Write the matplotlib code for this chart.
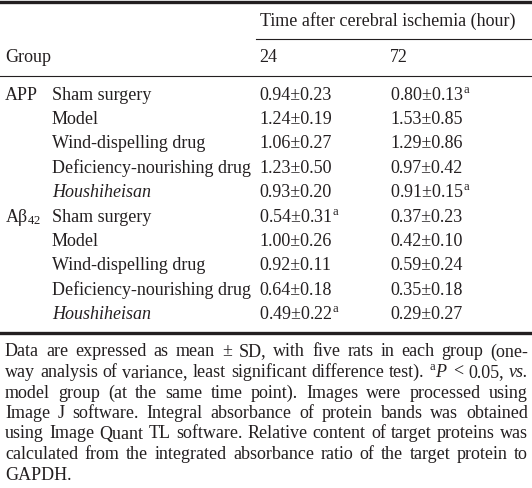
import matplotlib
matplotlib.use("Agg")
import matplotlib.pyplot as plt

plt.rcParams["font.family"] = ["Liberation Serif", "DejaVu Serif"]
plt.rcParams["mathtext.fontset"] = "custom"
plt.rcParams["mathtext.rm"] = "Liberation Serif"
plt.rcParams["mathtext.it"] = "Liberation Serif:italic"

INK = "#231f20"

# ---- table data ----
markers = ["APP", "A\u03b2$_\\mathregular{42}$"]
treatments = ["Sham surgery", "Model", "Wind-dispelling drug",
              "Deficiency-nourishing drug", "Houshiheisan"]
time_points = ["24", "72"]

app_mean_24 = [0.94, 1.24, 1.06, 1.23, 0.93]
app_sd_24 = [0.23, 0.19, 0.27, 0.50, 0.20]
app_sig_24 = [False, False, False, False, False]
app_mean_72 = [0.80, 1.53, 1.29, 0.97, 0.91]
app_sd_72 = [0.13, 0.85, 0.86, 0.42, 0.15]
app_sig_72 = [True, False, False, False, True]

ab_mean_24 = [0.54, 1.00, 0.92, 0.64, 0.49]
ab_sd_24 = [0.31, 0.26, 0.11, 0.18, 0.22]
ab_sig_24 = [True, False, False, False, True]
ab_mean_72 = [0.37, 0.42, 0.59, 0.35, 0.29]
ab_sd_72 = [0.23, 0.10, 0.24, 0.18, 0.27]
ab_sig_72 = [False, False, False, False, False]

header = "Time after cerebral ischemia (hour)"

# footnote lines; a leading * marks an italic word
foot_lines = [
    "Data are expressed as mean \u00b1 SD, with five rats in each group (one-",
    "way analysis of variance, least significant difference test). $^\\mathregular{a}\\mathit{P}$ < 0.05, *vs.",
    "model group (at the same time point). Images were processed using",
    "Image J software. Integral absorbance of protein bands was obtained",
    "using Image Quant TL software. Relative content of target proteins was",
    "calculated from the integrated absorbance ratio of the target protein to",
    "GAPDH.",
]


def cell(m, s, sig):
    txt = f"{m:.2f}\u00b1{s:.2f}"
    if sig:
        txt += "$^\\mathregular{a}$"
    return txt


fig = plt.figure(figsize=(5.32, 4.88), dpi=100)
ax = fig.add_axes([0, 0, 1, 1])
ax.set_xlim(0, 532)
ax.set_ylim(488, 0)
ax.axis("off")

fs = 13
x_marker, x_treat, x_c24, x_c72 = 5, 52, 259, 390

# rules
ax.axhline(1.5, color=INK, lw=2.4)
ax.plot([256, 532], [39, 39], color=INK, lw=0.8)
ax.axhline(76, color=INK, lw=0.8)
ax.axhline(333, color=INK, lw=2.4)

ax.text(x_c24 + 1, 21, header, fontsize=fs, color=INK, va="center")
ax.text(x_marker, 58, "Group", fontsize=fs, color=INK, va="center")
ax.text(x_c24, 58, time_points[0], fontsize=fs, color=INK, va="center")
ax.text(x_c72, 58, time_points[1], fontsize=fs, color=INK, va="center")

blocks = [
    (markers[0], app_mean_24, app_sd_24, app_sig_24, app_mean_72, app_sd_72, app_sig_72),
    (markers[1], ab_mean_24, ab_sd_24, ab_sig_24, ab_mean_72, ab_sd_72, ab_sig_72),
]
y0, dy = 95, 24.4
row = 0
for mk, m24, s24, g24, m72, s72, g72 in blocks:
    for i, tr in enumerate(treatments):
        y = y0 + row * dy
        if i == 0:
            ax.text(x_marker, y, mk, fontsize=fs, color=INK, va="center")
        ax.text(x_treat, y, tr, fontsize=fs, color=INK, va="center",
                style="italic" if tr == "Houshiheisan" else "normal")
        ax.text(x_c24, y, cell(m24[i], s24[i], g24[i]), fontsize=fs, color=INK, va="center")
        ax.text(x_c72, y, cell(m72[i], s72[i], g72[i]), fontsize=fs, color=INK, va="center")
        row += 1

# justified footnote
renderer = fig.canvas.get_renderer()
left, right = 5, 528
fy0, fdy = 352, 20.5
for li, line in enumerate(foot_lines):
    y = fy0 + li * fdy
    words = line.split(" ")
    items = []
    for w in words:
        it = w.startswith("*")
        t = ax.text(0, y, w.lstrip("*"), fontsize=fs, color=INK, va="center",
                    style="italic" if it else "normal")
        items.append(t)
    widths = [t.get_window_extent(renderer).width for t in items]
    if li < len(foot_lines) - 1 and len(items) > 1:
        gap = (right - left - sum(widths)) / (len(items) - 1)
    else:
        gap = 3.5
    x = left
    for t, w in zip(items, widths):
        t.set_x(x)
        x += w + gap

fig.savefig("out.png", dpi=100)
